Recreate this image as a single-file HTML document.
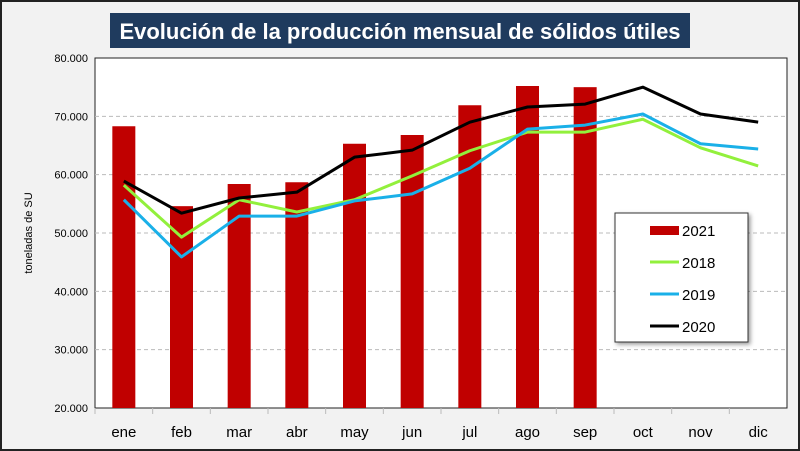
<!DOCTYPE html>
<html><head><meta charset="utf-8"><style>
body{margin:0;background:#fff;}
svg{display:block;font-family:"Liberation Sans",sans-serif;}
</style></head><body>
<svg id="c" width="800" height="451" viewBox="0 0 800 451">
<rect x="1" y="1" width="798" height="449" fill="#f2f2f2" stroke="#222" stroke-width="2"/>
<rect x="110" y="13" width="580" height="35" fill="#1f3b5e"/>
<text x="400" y="39" text-anchor="middle" fill="#fff" font-size="22" font-weight="bold">Evolución de la producción mensual de sólidos útiles</text>
<rect x="95" y="58" width="692" height="350" fill="#fff" stroke="#222" stroke-width="1"/>
<text transform="translate(32,233) rotate(-90)" text-anchor="middle" font-size="11" fill="#000">toneladas de SU</text>
<g id="grid"></g><g id="bars"></g><g id="lines"></g><g id="axes"></g>
<g>
<rect x="615" y="213" width="133" height="129" fill="#fff" stroke="#333" stroke-width="1" style="filter:drop-shadow(2px 2px 2px rgba(0,0,0,.4))"/>
<rect x="650" y="226" width="29" height="9" fill="#c00000"/>
<text x="682" y="236" font-size="15">2021</text>
<line x1="650" y1="262" x2="679" y2="262" stroke="#92f03c" stroke-width="3"/>
<text x="682" y="268" font-size="15">2018</text>
<line x1="650" y1="294" x2="679" y2="294" stroke="#1ab0e8" stroke-width="3"/>
<text x="682" y="300" font-size="15">2019</text>
<line x1="650" y1="326" x2="679" y2="326" stroke="#000" stroke-width="3"/>
<text x="682" y="332" font-size="15">2020</text>
</g>
</svg>
<script>
const months=["ene","feb","mar","abr","may","jun","jul","ago","sep","oct","nov","dic"];
const yTicks=[20000,30000,40000,50000,60000,70000,80000];
const yTickLabels=["20.000","30.000","40.000","50.000","60.000","70.000","80.000"];
const s2021=[68300,54600,58400,58700,65300,66800,71900,75200,75000];
const s2018=[58200,49300,55700,53600,55700,59800,64100,67300,67300,69500,64600,61500];
const s2019=[55700,45900,52900,52900,55500,56700,61100,67800,68500,70400,65300,64400];
const s2020=[58900,53400,56000,57000,63000,64200,69000,71600,72100,75000,70400,69000];
const NS="http://www.w3.org/2000/svg";
const L=95,R=787,T=58,B=408,ymin=20000,ymax=80000;
const bw=(R-L)/months.length;
const xc=i=>L+bw*(i+0.5);
const y=v=>B-(v-ymin)/(ymax-ymin)*(B-T);
function mk(tag,attrs,parent){const e=document.createElementNS(NS,tag);for(const k in attrs)e.setAttribute(k,attrs[k]);document.getElementById(parent).appendChild(e);return e;}
yTicks.forEach((v,i)=>{
  if(v>ymin&&v<ymax){const g=mk("line",{x1:L,x2:R,y1:y(v),y2:y(v),stroke:"#bbb","stroke-dasharray":"4,3"},"grid");
  
  }
  const t=mk("text",{x:L-7,y:y(v)+4,"text-anchor":"end","font-size":"11"},"axes");t.textContent=yTickLabels[i];
  
  
});
s2021.forEach((v,i)=>{
  const r=mk("rect",{x:xc(i)-11.5,y:y(v),width:23,height:B-y(v),fill:"#c00000"},"bars");
  
  
});
[[s2018,"#92f03c","2018"],[s2019,"#1ab0e8","2019"],[s2020,"#000","2020"]].forEach(([d,c,n])=>{
  const p=mk("polyline",{points:d.map((v,i)=>xc(i)+","+y(v)).join(" "),fill:"none",stroke:c,"stroke-width":3,"stroke-linejoin":"round"},"lines");
  
  
});
months.forEach((m,i)=>{
  const tk=mk("line",{x1:L+bw*i,x2:L+bw*i,y1:B,y2:B+6,stroke:"#bbb"},"axes");
  
  
  const t=mk("text",{x:xc(i),y:437,"text-anchor":"middle","font-size":"15"},"axes");t.textContent=m;
  
  
});
</script>
</body></html>
